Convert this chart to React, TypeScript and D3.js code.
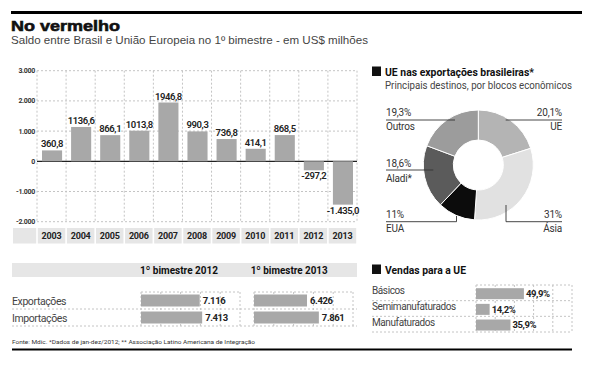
import React from 'react';
import * as d3 from 'd3';

// saldo comercial Brasil x UE, 1º bimestre (US$ milhões)
const years = ['2003', '2004', '2005', '2006', '2007', '2008', '2009', '2010', '2011', '2012', '2013'];
const saldo = [360.8, 1136.6, 866.1, 1013.8, 1946.8, 990.3, 736.8, 414.1, 868.5, -297.2, -1435.0];
const saldoText = ['360,8', '1136,6', '866,1', '1013,8', '1946,8', '990,3', '736,8', '414,1', '868,5', '-297,2', '-1.435,0'];
const yTicks = [3000, 2000, 1000, 0, -1000, -2000];
const yTickText = ['3.000', '2.000', '1.000', '0', '-1.000', '-2.000'];

// destinos das exportações
const destinos = ['UE', 'Ásia', 'EUA', 'Aladi*', 'Outros'];
const shares = [20.1, 31, 11, 18.6, 19.3];
const shareText = ['20,1%', '31%', '11%', '18,6%', '19,3%'];
const shareColors = ['#b4b4b4', '#e1e1e1', '#0c0c0c', '#5b5b5b', '#9c9c9c'];

// tabela bimestre
const fluxos = ['Exportações', 'Importações'];
const bim2012 = [7116, 7413];
const bim2013 = [6426, 7861];
const bimHeaders = ['1º bimestre 2012', '1º bimestre 2013'];

// vendas para a UE
const produtos = ['Básicos', 'Semimanufaturados', 'Manufaturados'];
const vendas = [49.9, 14.2, 35.9];
const vendasText = ['49,9%', '14,2%', '35,9%'];

const FONT = 'Roboto, "Open Sans", sans-serif';
const HEAD_FONT = '"Liberation Sans", Arial, sans-serif';
const BAR = '#a8a8a8';
const GRID = '#c4c4c4';
const BAND_BG = '#e6e6e6';

const ptBR = d3.formatLocale({ decimal: ',', thousands: '.', grouping: [3], currency: ['', ''] });
const fmtMil = ptBR.format(',');

const App = () => {
  // 1. main bar chart scales
  const x = d3.scaleBand<string>().domain(years).range([37, 357]);
  const y = d3.scaleLinear().domain([-2000, 3000]).range([221.7, 70.7]);
  const bw = x.bandwidth();

  // 2. donut
  const cx = 478.3, cy = 165;
  const pie = d3.pie<number>().sort(null).value(d => d);
  const arc = d3.arc<d3.PieArcDatum<number>>().innerRadius(25).outerRadius(55);
  const slices = pie(shares);

  // label layout for the donut (text side, baselines, leader line)
  const donutLabels = [
    { i: 0, side: 'right', y1: 116, line: 120, y2: 130.3, lx: 505.7 },
    { i: 4, side: 'left', y1: 116, line: 120, y2: 130.3, lx: 455 },
    { i: 3, side: 'left', y1: 166.5, line: 170, y2: 181.5, lx: 433.3 },
    { i: 2, side: 'left', y1: 218.3, line: 221.7, y2: 231.7, lx: 456.5, up: 216 },
    { i: 1, side: 'right', y1: 218.3, line: 221.7, y2: 231.7, lx: 506, up: 205 },
  ];

  // 3. bimestre table scales
  const rowY = d3.scaleBand<string>().domain(fluxos).range([292, 326]);
  const x12 = d3.scaleLinear().domain([0, 12000]).range([141, 240]);
  const x13 = d3.scaleLinear().domain([0, 12000]).range([254, 353]);
  const gridTicks = d3.range(0, 12001, 2400);

  // 4. vendas scales
  const rowV = d3.scaleBand<string>().domain(produtos).range([285, 332]);
  const xv = d3.scaleLinear().domain([0, 100]).range([476, 572]);
  const vTicks = d3.range(0, 101, 20);

  const panel = (sc: d3.ScaleLinear<number, number>, vals: number[]) => (
    <g>
      <line x1={sc(0)} x2={sc(12000)} y1={292} y2={292} stroke={GRID} strokeDasharray="2,2" />
      {gridTicks.map(t => (
        <line key={t} x1={sc(t)} x2={sc(t)} y1={292} y2={326} stroke={GRID} strokeDasharray="2,2" />
      ))}
      {fluxos.map((f, i) => (
        <g key={f}>
          <rect x={sc(0)} y={rowY(f)! + 2.5} width={sc(vals[i]) - sc(0)} height={12} fill={BAR} />
          <text x={sc(vals[i]) + 3} y={rowY(f)! + 12} fontSize={9.5} fontWeight={700} fill="#222" letterSpacing={-0.4}>
            {fmtMil(vals[i])}
          </text>
        </g>
      ))}
    </g>
  );

  return (
    <svg width={593} height={365} style={{ position: 'absolute', left: 0, top: 0, background: '#fff' }} fontFamily={FONT}>
      {/* header */}
      <line x1={11} x2={582} y1={12.5} y2={12.5} stroke="#000" strokeWidth={3} />
      <text x={11} y={31} fontFamily={HEAD_FONT} fontSize={15} fontWeight={700} fill="#111" stroke="#111" strokeWidth={0.6}
        textLength={109} lengthAdjust="spacingAndGlyphs">No vermelho</text>
      <text x={11} y={43.7} fontFamily={HEAD_FONT} fontSize={10.5} fill="#444" textLength={357} lengthAdjust="spacingAndGlyphs">
        Saldo entre Brasil e União Europeia no 1º bimestre - em US$ milhões
      </text>

      {/* bar chart grid */}
      {yTicks.filter(t => t !== 0).map(t => (
        <line key={t} x1={37} x2={357} y1={y(t)} y2={y(t)} stroke={GRID} strokeDasharray="2,2" />
      ))}
      {[...years.map(yr => x(yr)!), 357].map((gx, i) => (
        <line key={i} x1={gx} x2={gx} y1={y(3000)} y2={y(-2000)} stroke={GRID} strokeDasharray="2,2" />
      ))}
      {yTicks.map((t, i) => (
        <text key={t} x={35} y={y(t)} dy="0.35em" textAnchor="end" fontSize={7} fontWeight={700} fill="#333" letterSpacing={-0.3}>
          {yTickText[i]}
        </text>
      ))}
      <line x1={37} x2={357} y1={y(0)} y2={y(0)} stroke="#222" strokeWidth={1.3} />
      {years.map((yr, i) => {
        const v = saldo[i];
        const bx = x(yr)! + 5;
        const top = Math.min(y(v), y(0));
        return (
          <g key={yr}>
            <rect x={bx} y={top} width={bw - 9} height={Math.abs(y(v) - y(0))} fill={BAR} />
            <text
              x={bx + (bw - 9) / 2}
              y={v >= 0 ? y(v) - 3 : y(v) + 9}
              textAnchor="middle"
              fontSize={9.5}
              fontWeight={600}
              fill="#222"
              letterSpacing={-0.4}
            >
              {saldoText[i]}
            </text>
          </g>
        );
      })}
      {/* year row */}
      <rect x={13} y={228} width={23.2} height={15.5} fill={BAND_BG} />
      {years.map(yr => (
        <g key={yr}>
          <rect x={x(yr)! + 0.8} y={228} width={bw - 1.6} height={15.5} fill={BAND_BG} />
          <text x={x(yr)! + bw / 2} y={239.3} textAnchor="middle" fontSize={9} fontWeight={700} fill="#222" letterSpacing={-0.2}>
            {yr}
          </text>
        </g>
      ))}

      {/* donut panel */}
      <rect x={372} y={66.5} width={9} height={9.5} fill="#111" />
      <text x={385} y={75.5} fontSize={11} fontWeight={700} fill="#111" textLength={149} lengthAdjust="spacingAndGlyphs">
        UE nas exportações brasileiras*
      </text>
      <text x={385} y={88.5} fontSize={10} fill="#444" textLength={187} lengthAdjust="spacingAndGlyphs">
        Principais destinos, por blocos econômicos
      </text>
      <g transform={`translate(${cx},${cy})`}>
        {slices.map((s, i) => (
          <path key={i} d={arc(s)!} fill={shareColors[i]} stroke="#fff" strokeWidth={1} />
        ))}
      </g>
      {donutLabels.map(l => {
        const left = l.side === 'left';
        const tx = left ? 386 : 562;
        const anchor = left ? 'start' : 'end';
        return (
          <g key={l.i}>
            <line x1={tx} x2={l.lx} y1={l.line} y2={l.line} stroke="#333" strokeWidth={0.9} />
            {l.up !== undefined && <line x1={l.lx} x2={l.lx} y1={l.line} y2={l.up} stroke="#333" strokeWidth={0.9} />}
            <text x={tx} y={l.y1} textAnchor={anchor} fontSize={10} fill="#333" letterSpacing={-0.2}>{shareText[l.i]}</text>
            <text x={tx} y={l.y2} textAnchor={anchor} fontSize={10} fill="#333" letterSpacing={-0.2}>{destinos[l.i]}</text>
          </g>
        );
      })}

      {/* bimestre table */}
      <rect x={12} y={263} width={345} height={14} fill={BAND_BG} />
      <text x={140} y={273.5} fontSize={11} fontWeight={700} fill="#111" textLength={78} lengthAdjust="spacingAndGlyphs">{bimHeaders[0]}</text>
      <text x={250.7} y={273.5} fontSize={11} fontWeight={700} fill="#111" textLength={77} lengthAdjust="spacingAndGlyphs">{bimHeaders[1]}</text>
      {fluxos.map(f => (
        <g key={f}>
          <text x={12} y={rowY(f)! + 12.5} fontSize={10.5} fill="#444" letterSpacing={-0.4}>{f}</text>
          <line x1={12} x2={357} y1={rowY(f)! + rowY.bandwidth()} y2={rowY(f)! + rowY.bandwidth()} stroke={GRID} strokeDasharray="2,2" />
        </g>
      ))}
      {panel(x12, bim2012)}
      {panel(x13, bim2013)}

      {/* vendas para a UE */}
      <rect x={372} y={264.5} width={9} height={9.5} fill="#111" />
      <text x={385} y={273.5} fontSize={11} fontWeight={700} fill="#111" textLength={81} lengthAdjust="spacingAndGlyphs">Vendas para a UE</text>
      <line x1={xv(0)} x2={xv(100)} y1={285} y2={285} stroke={GRID} strokeDasharray="2,2" />
      {vTicks.map(t => (
        <line key={t} x1={xv(t)} x2={xv(t)} y1={285} y2={332} stroke={GRID} strokeDasharray="2,2" />
      ))}
      {produtos.map((p, i) => (
        <g key={p}>
          <line x1={372} x2={572} y1={rowV(p)! + rowV.bandwidth()} y2={rowV(p)! + rowV.bandwidth()} stroke={GRID} strokeDasharray="2,2" />
          <text x={372} y={rowV(p)! + 9.3} fontSize={10} fill="#444" letterSpacing={-0.4}>{p}</text>
          <rect x={xv(0)} y={rowV(p)! + 3.2} width={xv(vendas[i]) - xv(0)} height={11} fill={BAR} />
          <text x={xv(vendas[i]) + 2} y={rowV(p)! + 12} fontSize={9.5} fontWeight={700} fill="#222" letterSpacing={-0.4}>
            {vendasText[i]}
          </text>
        </g>
      ))}

      {/* footer */}
      <text x={12} y={343.5} fontSize={6} fill="#333" textLength={243} lengthAdjust="spacingAndGlyphs">
        Fonte: Mdic. *Dados de jan-dez/2012; ** Associação Latino Americana de Integração
      </text>
      <line x1={12} x2={572} y1={349.5} y2={349.5} stroke="#000" strokeWidth={2} />
    </svg>
  );
};

export default App;
